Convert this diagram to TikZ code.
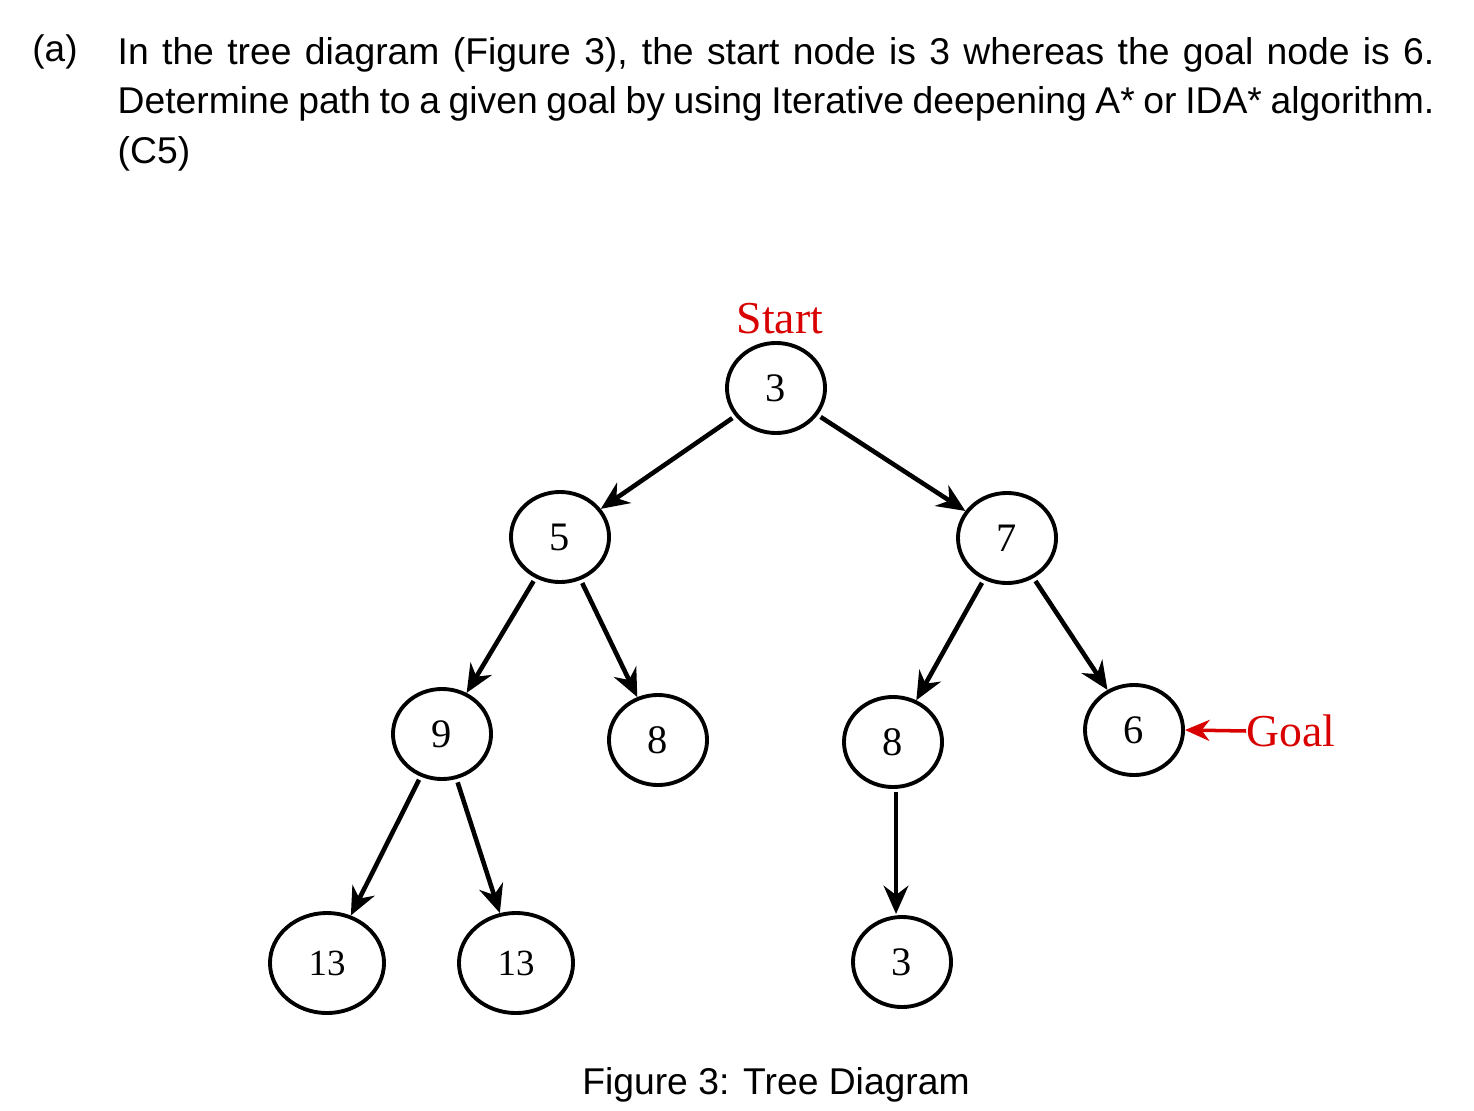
\documentclass[tikz,border=0pt]{standalone}
\usepackage{fontspec}
\setmainfont{Liberation Serif}
\newfontfamily\arial{Liberation Sans}
\usetikzlibrary{shapes.geometric,arrows.meta}
\begin{document}
\begin{tikzpicture}[x=0.01cm,y=-0.01cm,
  tn/.style={draw,ellipse,line width=1.1pt,minimum width=98pt*0.2845,minimum height=90pt*0.2845,inner sep=0pt,font=\fontsize{11.5}{11.5}\selectfont},
  tw/.style={tn,minimum width=114pt*0.2845,minimum height=100pt*0.2845,font=\fontsize{10.5}{10.5}\selectfont},
  ed/.style={line width=1.3pt,-{Stealth[length=8pt,width=7pt]},shorten <=1pt,shorten >=0pt}]
\useasboundingbox (0,0) rectangle (1474,1110);
\node[font=\arial\fontsize{10.5}{10.5}\selectfont,anchor=west] (a) at (20,52) {(a)};
\node[font=\arial\fontsize{10.6}{14}\selectfont,anchor=north west,inner sep=0pt,text width=13.16cm,align=justify] (q) at (117,37)
{In the tree diagram (Figure 3), the start node is 3 whereas the goal node is 6. Determine path to a given goal by using Iterative deepening A* or IDA* algorithm. (C5)};
\node[tn] (n3) at (776,388) {3};
\node[tn] (n5) at (560,537) {5};
\node[tn] (n7) at (1007,538) {7};
\node[tn] (n9) at (442,734) {9};
\node[tn] (n8a) at (658,740) {8};
\node[tn] (n8b) at (893,742) {8};
\node[tn] (n6) at (1134,730) {6};
\node[tw] (n13a) at (327,963) {13};
\node[tw] (n13b) at (516,963) {13};
\node[tn] (n3b) at (902,962) {3};
\node[text=red!85!black,font=\fontsize{13}{13}\selectfont] (st) at (780,319) {Start};
\node[text=red!85!black,font=\fontsize{13}{13}\selectfont,anchor=west,inner sep=0pt] (gl) at (1246,731) {Goal};
\draw[ed] (n3) -- (n5);
\draw[ed] (n3) -- (n7);
\draw[ed] (n5) -- (n9);
\draw[ed] (n5) -- (n8a);
\draw[ed] (n7) -- (n8b);
\draw[ed] (n7) -- (n6);
\draw[ed] (n9) -- (n13a);
\draw[ed] (n9) -- (n13b);
\draw[ed] (n8b.south) ++(3,0) -- ++(0,125);
\draw[red!85!black,line width=1pt,-{Stealth[length=7pt,width=6pt]}] (gl.west) -- (n6.east);
\node[font=\arial\fontsize{10.6}{10.6}\selectfont] (cap) at (776,1085) {Figure 3: Tree Diagram};
\end{tikzpicture}
\end{document}
